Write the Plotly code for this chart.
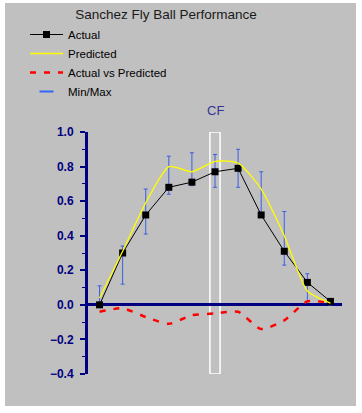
import plotly.graph_objects as go

positions = list(range(11))
actual = [0.00, 0.30, 0.52, 0.68, 0.71, 0.77, 0.79, 0.52, 0.31, 0.13, 0.02]
predicted = [0.04, 0.31, 0.59, 0.80, 0.77, 0.83, 0.82, 0.67, 0.40, 0.08, 0.01]
actual_vs_pred = [-0.04, -0.02, -0.07, -0.11, -0.06, -0.05, -0.04, -0.14, -0.09, 0.02, 0.01]
max_vals = [0.11, 0.34, 0.67, 0.86, 0.88, 0.87, 0.90, 0.77, 0.54, 0.18, 0.03]
min_vals = [0.00, 0.12, 0.41, 0.64, 0.69, 0.68, 0.68, 0.52, 0.23, 0.02, 0.00]
cf_position = 5
y_ticks = [-0.4, -0.2, 0.0, 0.2, 0.4, 0.6, 0.8, 1.0]

W, H = 362, 413
L, R, T, B = 88, 20, 132, 39
pw, ph = W - L - R, H - T - B

def px_x(p):
    return (p - L) / pw

def px_y(p):
    return (H - B - p) / ph

fig = go.Figure()

err_plus = [mx - a for mx, a in zip(max_vals, actual)]
err_minus = [a - mn for mn, a in zip(min_vals, actual)]

fig.add_trace(go.Scatter(
    x=positions, y=actual, mode="markers", showlegend=False,
    marker=dict(size=1, opacity=0),
    error_y=dict(type="data", symmetric=False, array=err_plus, arrayminus=err_minus,
                 color="#3a5fe0", thickness=1, width=2),
    hoverinfo="skip"))

fig.add_trace(go.Scatter(
    x=positions, y=actual, mode="lines+markers", name="Actual",
    line=dict(color="black", width=1),
    marker=dict(symbol="square", size=7, color="black")))

fig.add_trace(go.Scatter(
    x=positions, y=predicted, mode="lines", name="Predicted",
    line=dict(color="#ffff00", width=1.3, shape="spline", smoothing=0.6)))

fig.add_trace(go.Scatter(
    x=positions, y=actual_vs_pred, mode="lines", name="Actual vs Predicted",
    line=dict(color="#ff0000", width=2.5, dash="6px,8px", shape="spline", smoothing=0.6)))

fig.add_trace(go.Scatter(
    x=[None], y=[None], mode="markers", name="Min/Max",
    marker=dict(symbol="line-ew", size=10, line=dict(color="#3366ff", width=2))))

fig.add_shape(type="rect", xref="paper", yref="paper", layer="below",
              x0=px_x(5), x1=px_x(356), y0=px_y(406), y1=px_y(3),
              fillcolor="#c0c0c0", line=dict(width=0))
fig.add_shape(type="rect", xref="x", yref="y", layer="below",
              x0=cf_position - 0.22, x1=cf_position + 0.22, y0=-0.4, y1=1.0,
              fillcolor="rgba(0,0,0,0)", line=dict(color="white", width=1.5))

fig.add_annotation(x=cf_position, y=px_y(110), xref="x", yref="paper",
                   text="CF", showarrow=False, yanchor="middle",
                   font=dict(family="Liberation Sans, Arial", size=13, color="#333399"))

fig.update_layout(
    width=W, height=H,
    margin=dict(l=L, r=R, t=T, b=B, pad=0),
    paper_bgcolor="white", plot_bgcolor="rgba(0,0,0,0)",
    title=dict(text="Sanchez Fly Ball Performance", x=166 / W, xref="container",
               xanchor="center", y=1 - 14 / H, yref="container", yanchor="middle",
               font=dict(family="Liberation Sans, Arial", size=13.5, color="#1a1a1a")),
    showlegend=True,
    legend=dict(x=px_x(25), y=px_y(20), xanchor="left", yanchor="top",
                bgcolor="rgba(0,0,0,0)", borderwidth=0, tracegroupgap=0,
                itemwidth=33,
                font=dict(family="Liberation Sans, Arial", size=11.5, color="black")),
    xaxis=dict(range=[-0.5, 10.5], visible=False, showgrid=False, zeroline=False),
    yaxis=dict(range=[-0.4, 1.0], tickvals=y_ticks, tickformat=".1f",
               showgrid=False, showline=True, linecolor="#000080", linewidth=3,
               ticks="outside", ticklen=5, tickwidth=2, tickcolor="#000080",
               minor=dict(dtick=0.1, ticks="outside", ticklen=3, tickcolor="#000080", tickwidth=1),
               zeroline=True, zerolinecolor="#000080", zerolinewidth=2.5,
               ticklabelstandoff=4,
               tickfont=dict(family="Liberation Sans, Arial", size=12, color="#000080", weight="bold")),
)

fig.write_html("out.html", config={"displayModeBar": False},
               post_script="document.body.style.margin='0';document.body.style.overflow='hidden';")
